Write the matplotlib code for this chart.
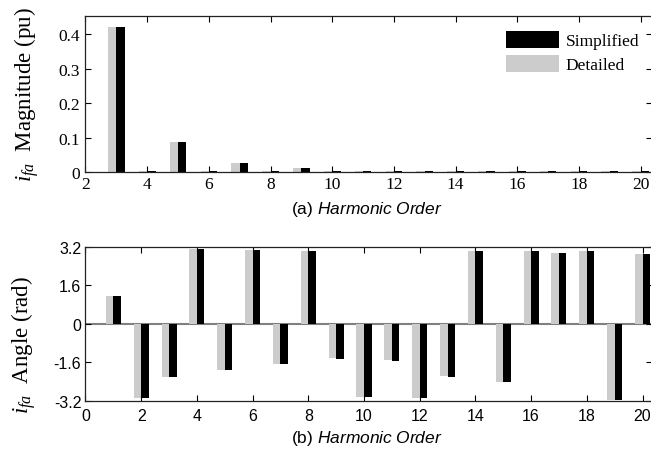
import numpy as np
import matplotlib
matplotlib.use("Agg")
import matplotlib.pyplot as plt
from matplotlib.ticker import FixedLocator, FixedFormatter

plt.rcParams["mathtext.fontset"] = "custom"
plt.rcParams["mathtext.it"] = "Liberation Serif:italic"
plt.rcParams["mathtext.rm"] = "Liberation Serif"
plt.rcParams["mathtext.sf"] = "Liberation Sans:italic"

# harmonic magnitudes (pu), orders 2..20
mag_orders = np.arange(2, 21)
mag_detailed = [0.002, 0.42, 0.004, 0.088, 0.004, 0.026, 0.004, 0.011, 0.004, 0.004,
                0.004, 0.004, 0.004, 0.004, 0.004, 0.004, 0.004, 0.004, 0.004]
mag_simplified = [0.002, 0.42, 0.004, 0.088, 0.004, 0.026, 0.004, 0.011, 0.004, 0.004,
                  0.004, 0.004, 0.004, 0.004, 0.004, 0.004, 0.004, 0.004, 0.004]

# harmonic angles (rad), orders 1..20
ang_orders = np.arange(1, 21)
ang_detailed = [1.15, -3.07, -2.22, 3.11, -1.93, 3.06, -1.69, 3.02, -1.44, -3.04,
                -1.52, -3.09, -2.18, 3.02, -2.42, 3.02, 2.95, 3.02, -3.16, 2.90]
ang_simplified = [1.15, -3.07, -2.22, 3.11, -1.93, 3.06, -1.69, 3.02, -1.47, -3.04,
                  -1.54, -3.09, -2.21, 3.02, -2.42, 3.02, 2.95, 3.02, -3.18, 2.90]

GRAY = "#cccccc"
BLACK = "#000000"
W = 0.27

W_PX, H_PX = 651, 452
fig = plt.figure(figsize=(W_PX / 100, H_PX / 100), dpi=100)


def box(left, top, right, bottom):
    return [left / W_PX, 1 - bottom / H_PX, (right - left) / W_PX, (bottom - top) / H_PX]


ax1 = fig.add_axes(box(85.5, 17, 652, 173.3))
ax2 = fig.add_axes(box(85.5, 247.5, 652, 401.7))

# magnitude panel
b_det = ax1.bar(mag_orders - W / 2, mag_detailed, W, color=GRAY, linewidth=0)
b_sim = ax1.bar(mag_orders + W / 2, mag_simplified, W, color=BLACK, linewidth=0)
ax1.set_xlim(2, 20.37)
ax1.set_ylim(0, 0.452)
ax1.xaxis.set_major_locator(FixedLocator(range(2, 21, 2)))
ax1.yaxis.set_major_locator(FixedLocator([0, 0.1, 0.2, 0.3, 0.4]))
ax1.yaxis.set_major_formatter(FixedFormatter(["0", "0.1", "0.2", "0.3", "0.4"]))
for lab in ax1.get_xticklabels() + ax1.get_yticklabels():
    lab.set_fontfamily("Liberation Serif")
    lab.set_fontsize(12.5)
ax1.tick_params(axis="x", pad=3)
ax1.tick_params(axis="y", pad=4)

leg = ax1.legend([b_sim, b_det], ["Simplified", "Detailed"], loc="upper left",
                 bbox_to_anchor=(0.7417, 0.905), frameon=False, borderpad=0,
                 borderaxespad=0, handlelength=3.1, handleheight=1.1,
                 handletextpad=0.35, labelspacing=0.35,
                 prop={"family": "Liberation Serif", "size": 12.5})

# angle panel
ax2.axhline(0, color="#808080", linewidth=1.5, zorder=0.5)
ax2.bar(ang_orders - W / 2, ang_detailed, W, color=GRAY, linewidth=0)
ax2.bar(ang_orders + W / 2, ang_simplified, W, color=BLACK, linewidth=0)
ax2.set_xlim(0, 20.34)
ax2.set_ylim(-3.2, 3.2)
ax2.xaxis.set_major_locator(FixedLocator(range(0, 21, 2)))
ax2.yaxis.set_major_locator(FixedLocator([-3.2, -1.6, 0, 1.6, 3.2]))
ax2.yaxis.set_major_formatter(FixedFormatter(["-3.2", "-1.6", "0", "1.6", "3.2"]))
for lab in ax2.get_xticklabels() + ax2.get_yticklabels():
    lab.set_fontfamily("Liberation Sans")
    lab.set_fontsize(11.5)
ax2.tick_params(axis="x", pad=5)
ax2.tick_params(axis="y", pad=3)

for ax in (ax1, ax2):
    ax.tick_params(direction="in", top=True, right=True, length=4.5, width=0.8,
                   colors="black")
    for sp in ax.spines.values():
        sp.set_linewidth(0.9)
        sp.set_color("#222222")

# axis titles
fig.text(367 / W_PX, 1 - 210 / H_PX, r"(a) $\mathsf{Harmonic\ Order}$",
         ha="center", va="center", family="Liberation Sans", size=12.5)
fig.text(367 / W_PX, 1 - 439 / H_PX, r"(b) $\mathsf{Harmonic\ Order}$",
         ha="center", va="center", family="Liberation Sans", size=12.5)
fig.text(27 / W_PX, 1 - 95 / H_PX, r"$i_{fa}$  Magnitude (pu)", rotation=90,
         ha="center", va="center", family="Liberation Serif", size=16.5)
fig.text(24 / W_PX, 1 - 345 / H_PX, r"$i_{fa}$  Angle (rad)", rotation=90,
         ha="center", va="center", family="Liberation Serif", size=16.5)

fig.savefig("out.png", dpi=100)
